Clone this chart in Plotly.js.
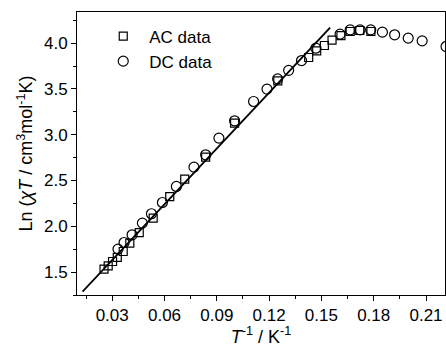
<!DOCTYPE html>
<html>
<head>
<meta charset="utf-8">
<script src="https://cdn.plot.ly/plotly-3.0.1.min.js"></script>
<style>html,body{margin:0;padding:0;background:#fff;}#chart{width:446px;height:347px;}</style>
</head>
<body>
<div id="chart"></div>
<script>
const acX = [0.0253, 0.0277, 0.0302, 0.0329, 0.0363, 0.0401, 0.0455, 0.0535, 0.0630, 0.0716, 0.0836, 0.1002, 0.1250, 0.1427, 0.1473, 0.1517, 0.1561, 0.1612, 0.1665, 0.1720, 0.1784];
const acY = [1.533, 1.569, 1.616, 1.660, 1.725, 1.817, 1.932, 2.090, 2.325, 2.515, 2.755, 3.127, 3.589, 3.843, 3.916, 3.974, 4.033, 4.083, 4.127, 4.138, 4.127];
const dcX = [0.0333, 0.0368, 0.0414, 0.0473, 0.0525, 0.0588, 0.0668, 0.0769, 0.0836, 0.0912, 0.1002, 0.1111, 0.1188, 0.1249, 0.1312, 0.1386, 0.1468, 0.1607, 0.1665, 0.1722, 0.1783, 0.1850, 0.1920, 0.1998, 0.2078, 0.2215];
const dcY = [1.751, 1.823, 1.907, 2.035, 2.137, 2.260, 2.435, 2.646, 2.781, 2.963, 3.152, 3.363, 3.498, 3.610, 3.703, 3.810, 3.945, 4.098, 4.145, 4.145, 4.145, 4.120, 4.091, 4.055, 4.025, 3.963];
const fitX = [0.013, 0.155];
const fitY = [1.288, 4.170];

const font = 'Arial, "Liberation Sans", sans-serif';
const traces = [
  {x: fitX, y: fitY, mode: 'lines', line: {color: '#000', width: 1.8}, showlegend: false, hoverinfo: 'skip'},
  {x: acX, y: acY, mode: 'markers', name: 'AC data',
   marker: {symbol: 'square-open', size: 8, color: '#000', line: {width: 1.2}}},
  {x: dcX, y: dcY, mode: 'markers', name: 'DC data',
   marker: {symbol: 'circle-open', size: 10, color: '#000', line: {width: 1.2}}}
];
const layout = {
  width: 446, height: 347,
  margin: {l: 77, r: 1, t: 12, b: 52},
  paper_bgcolor: '#fff', plot_bgcolor: '#fff',
  font: {family: font, size: 17, color: '#000'},
  showlegend: true,
  legend: {x: 0.055, y: 0.977, xanchor: 'left', yanchor: 'top', bgcolor: 'rgba(0,0,0,0)',
           itemwidth: 42,
           font: {family: font, size: 17, color: '#000'}},
  xaxis: {
    range: [0.0098, 0.2209], dtick: 0.03, tick0: 0, tickformat: '.2f',
    ticks: 'outside', ticklen: 5, tickwidth: 1, tickcolor: '#000',
    minor: {dtick: 0.015, ticks: 'outside', ticklen: 3, tickcolor: '#000'},
    showline: true, linecolor: '#000', linewidth: 1, mirror: true,
    showgrid: false, zeroline: false,
    tickfont: {family: font, size: 17},
    title: {text: '<i>T</i><sup>-1</sup> / K<sup>-1</sup>', font: {family: font, size: 18}, standoff: 2}
  },
  yaxis: {
    range: [1.25, 4.34], dtick: 0.5, tick0: 0, tickformat: '.1f',
    ticks: 'outside', ticklen: 5, tickwidth: 1, tickcolor: '#000',
    minor: {dtick: 0.25, ticks: 'outside', ticklen: 3, tickcolor: '#000'},
    showline: true, linecolor: '#000', linewidth: 1, mirror: true,
    showgrid: false, zeroline: false,
    tickfont: {family: font, size: 17},
    title: {text: 'Ln (<i>χT</i> / cm<sup>3</sup>mol<sup>-1</sup>K)', font: {family: font, size: 18}, standoff: 6}
  }
};
Plotly.newPlot('chart', traces, layout, {displayModeBar: false, staticPlot: true});
</script>
</body>
</html>
